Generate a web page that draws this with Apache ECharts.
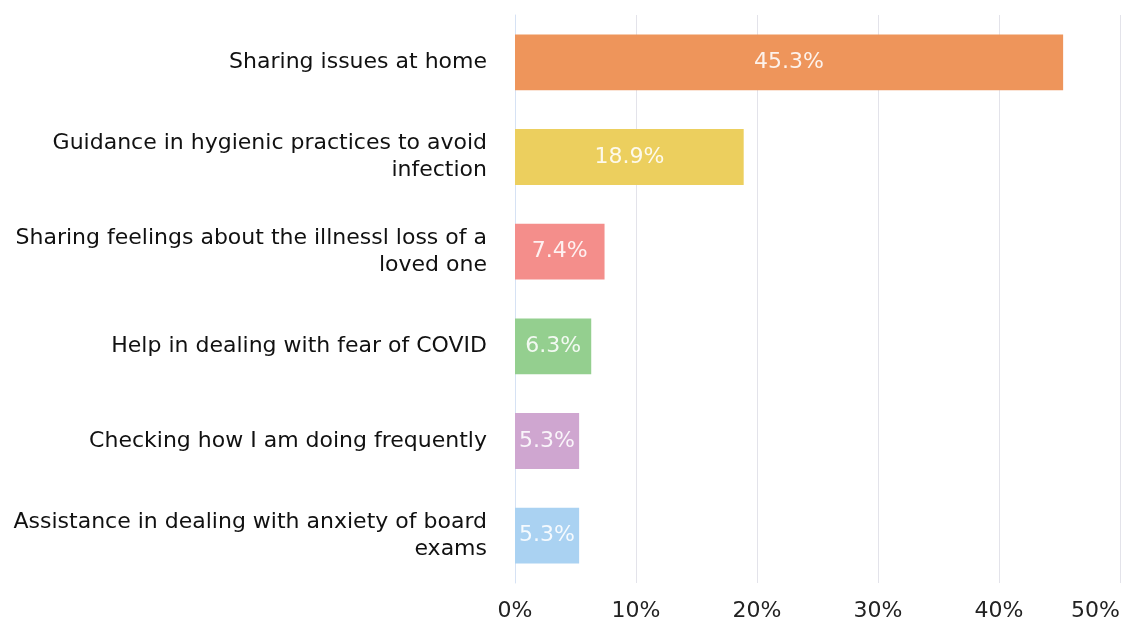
<!DOCTYPE html>
<html>
<head>
    <meta charset="utf-8"/>
    <title>Support wanted</title>
    <script src="https://cdn.jsdelivr.net/npm/echarts@6/dist/echarts.min.js"></script>
    <style>
        html, body { margin: 0; padding: 0; background: #fff; }
    </style>
</head>
<body>
<div id="main" style="width: 1123px; height: 622px;"></div>
<script type="text/javascript">
    var categories = [
        'Sharing issues at home',
        'Guidance in hygienic practices to avoid\ninfection',
        'Sharing feelings about the illnessl loss of a\nloved one',
        'Help in dealing with fear of COVID',
        'Checking how I am doing frequently',
        'Assistance in dealing with anxiety of board\nexams'
    ];
    var percents = [45.3, 18.9, 7.4, 6.3, 5.3, 5.3];
    var barColors = ['#EE955B', '#ECCF5E', '#F48E8B', '#94CF8F', '#CFA6D0', '#AAD2F2'];
    var xTicks = [0, 10, 20, 30, 40, 50];

    var chart = echarts.init(document.getElementById('main'));

    var option = {
        backgroundColor: '#ffffff',
        textStyle: { fontFamily: 'DejaVu Sans' },
        grid: {
            left: 515,
            right: 1,
            top: 15,
            bottom: 39,
            containLabel: false
        },
        xAxis: {
            type: 'value',
            min: xTicks[0],
            max: xTicks[xTicks.length - 1],
            interval: 10,
            axisLine: { show: false },
            axisTick: { show: false },
            axisLabel: {
                formatter: '{value}%',
                fontSize: 22,
                color: '#222',
                margin: 17,
                alignMaxLabel: 'right'
            },
            splitLine: { lineStyle: { color: '#E3E3EA', width: 1 } }
        },
        yAxis: {
            type: 'category',
            inverse: true,
            data: categories,
            axisLine: { show: true, lineStyle: { color: '#D6E2F4', width: 1 } },
            axisTick: { show: false },
            axisLabel: {
                fontSize: 22,
                color: '#111',
                margin: 28,
                lineHeight: 27,
                align: 'right'
            }
        },
        series: [
            {
                type: 'bar',
                barWidth: '59%',
                data: percents.map(function (v, i) {
                    return { value: v, itemStyle: { color: barColors[i] } };
                }),
                label: {
                    show: true,
                    position: 'inside',
                    formatter: '{c}%',
                    fontSize: 22,
                    color: 'rgba(255,255,255,0.88)'
                },
                animation: false
            }
        ]
    };

    chart.setOption(option);
</script>
</body>
</html>
